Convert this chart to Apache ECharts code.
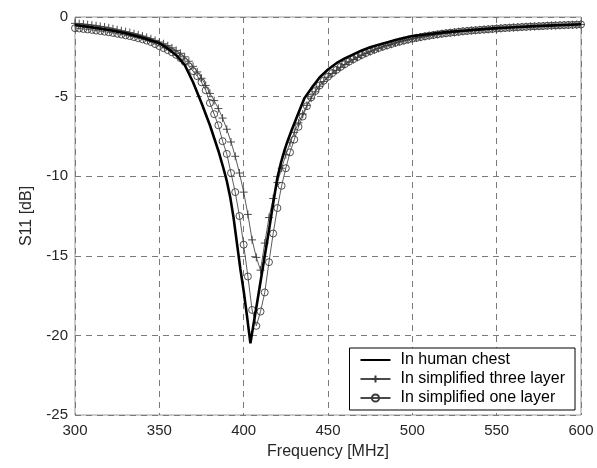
<!DOCTYPE html>
<html><head><meta charset="utf-8">
<script src="https://cdn.jsdelivr.net/npm/echarts@6/dist/echarts.min.js"></script>
<style>html,body{margin:0;padding:0;background:#fff}#c{width:597px;height:468px}</style>
</head><body><div id="c"></div>
<script>
const seriesNames = ['In human chest', 'In simplified three layer', 'In simplified one layer'];
const xTicks = [300, 350, 400, 450, 500, 550, 600];
const yTicks = [-25, -20, -15, -10, -5, 0];

// Frequencies [MHz] of the marker series
const freq = [
300,302.5,305,307.5,310,312.5,315,317.5,320,322.5,
325,327.5,330,332.5,335,337.5,340,342.5,345,347.5,
350,352.5,355,357.5,360,362.5,365,367.5,370,372.5,
375,377.5,380,382.5,385,387.5,390,392.5,395,397.5,
400,402.5,405,407.5,410,412.5,415,417.5,420,422.5,
425,427.5,430,432.5,435,437.5,440,442.5,445,447.5,
450,452.5,455,457.5,460,462.5,465,467.5,470,472.5,
475,477.5,480,482.5,485,487.5,490,492.5,495,497.5,
500,502.5,505,507.5,510,512.5,515,517.5,520,522.5,
525,527.5,530,532.5,535,537.5,540,542.5,545,547.5,
550,552.5,555,557.5,560,562.5,565,567.5,570,572.5,
575,577.5,580,582.5,585,587.5,590,592.5,595,597.5,
600];

// S11 [dB], simplified three layer model
const threeLayer = [
-0.40,-0.42,-0.45,-0.48,-0.51,-0.55,-0.59,-0.63,-0.68,-0.74,
-0.80,-0.86,-0.92,-0.98,-1.05,-1.12,-1.20,-1.28,-1.37,-1.47,
-1.57,-1.68,-1.80,-1.94,-2.10,-2.28,-2.50,-2.78,-3.10,-3.45,
-3.85,-4.30,-4.80,-5.25,-5.75,-6.35,-7.05,-7.85,-8.75,-9.80,
-11.00,-12.40,-14.00,-15.10,-15.90,-14.20,-12.60,-11.40,-10.40,-9.50,
-8.65,-7.90,-7.25,-6.65,-6.10,-5.55,-5.10,-4.70,-4.35,-4.05,
-3.78,-3.55,-3.35,-3.16,-2.99,-2.83,-2.68,-2.54,-2.41,-2.29,
-2.18,-2.07,-1.97,-1.88,-1.79,-1.71,-1.63,-1.56,-1.49,-1.43,
-1.37,-1.32,-1.27,-1.22,-1.17,-1.13,-1.09,-1.05,-1.02,-0.99,
-0.96,-0.93,-0.90,-0.87,-0.85,-0.83,-0.81,-0.79,-0.77,-0.75,
-0.73,-0.71,-0.69,-0.67,-0.66,-0.64,-0.63,-0.61,-0.60,-0.59,
-0.57,-0.56,-0.55,-0.54,-0.53,-0.52,-0.51,-0.50,-0.49,-0.48,
-0.47];

// S11 [dB], simplified one layer model
const oneLayer = [
-0.70,-0.72,-0.75,-0.78,-0.81,-0.85,-0.88,-0.92,-0.96,-1.00,
-1.05,-1.10,-1.15,-1.20,-1.26,-1.33,-1.40,-1.48,-1.57,-1.70,
-1.83,-1.95,-2.08,-2.22,-2.38,-2.58,-2.82,-3.10,-3.40,-3.72,
-4.10,-4.60,-5.40,-6.10,-6.80,-7.80,-8.60,-9.80,-11.00,-12.50,
-14.30,-16.30,-18.40,-19.40,-18.50,-17.30,-15.40,-13.60,-12.00,-10.60,
-9.50,-8.50,-7.70,-6.90,-6.25,-5.60,-5.05,-4.65,-4.30,-4.00,
-3.75,-3.52,-3.32,-3.13,-2.96,-2.80,-2.65,-2.51,-2.38,-2.26,
-2.15,-2.05,-1.95,-1.86,-1.78,-1.70,-1.62,-1.55,-1.48,-1.42,
-1.36,-1.31,-1.26,-1.21,-1.17,-1.13,-1.09,-1.05,-1.02,-0.99,
-0.96,-0.93,-0.90,-0.88,-0.85,-0.83,-0.81,-0.79,-0.77,-0.75,
-0.73,-0.71,-0.69,-0.68,-0.66,-0.65,-0.63,-0.62,-0.60,-0.59,
-0.58,-0.57,-0.55,-0.54,-0.53,-0.52,-0.51,-0.50,-0.49,-0.48,
-0.47];

// Human chest (solid thick line)
const chestFreq = [300,310,320,330,340,350,355,360,365,370,375,380,385,388,390,392,394,396.5,398,400,402,404,406,408.5,410.5,412.5,415,417.5,420,422,424,426,428.5,432,436,440,445,450,455,460,465,470,475,480,485,490,495,500,510,520,530,540,550,560,570,580,590,600];
const chestS11 = [-0.5,-0.65,-0.82,-1.02,-1.3,-1.65,-1.98,-2.4,-3.0,-4.1,-5.4,-6.8,-8.4,-9.5,-10.3,-11.3,-12.6,-14.6,-15.8,-17.2,-18.8,-20.5,-19.2,-17.6,-16.3,-15.0,-13.4,-11.7,-10.1,-9.2,-8.45,-7.8,-7.1,-6.15,-5.1,-4.5,-3.8,-3.3,-2.9,-2.6,-2.35,-2.1,-1.9,-1.75,-1.6,-1.45,-1.32,-1.2,-1.07,-0.95,-0.86,-0.78,-0.7,-0.64,-0.59,-0.54,-0.5,-0.46];

const FONT = '"Liberation Sans", Arial, sans-serif';
const chart = echarts.init(document.getElementById('c'), null, {renderer: 'canvas'});
const gridLine = {show: true, lineStyle: {color: '#7a7a7a', width: 1, type: [6, 5]}};
const crossPath = 'path://M5,0L5,10M0,5L10,5';

chart.setOption({
  animation: false,
  backgroundColor: '#fff',
  grid: {left: 75, right: 16, top: 17, bottom: 53, show: true, borderColor: '#9a9a9a', borderWidth: 1},
  xAxis: {
    type: 'value', min: xTicks[0], max: xTicks[xTicks.length - 1], interval: 50,
    name: 'Frequency [MHz]', nameLocation: 'middle', nameGap: 29,
    nameTextStyle: {fontFamily: FONT, fontSize: 16, color: '#262626'},
    axisLine: {show: false}, axisTick: {show: false},
    axisLabel: {fontFamily: FONT, fontSize: 15, color: '#262626', margin: 8},
    splitLine: gridLine
  },
  yAxis: {
    type: 'value', min: yTicks[0], max: yTicks[yTicks.length - 1], interval: 5,
    name: 'S11 [dB]', nameLocation: 'middle', nameGap: 40, nameRotate: 90,
    nameTextStyle: {fontFamily: FONT, fontSize: 16, color: '#262626'},
    axisLine: {show: false}, axisTick: {show: false},
    axisLabel: {fontFamily: FONT, fontSize: 15, color: '#262626', margin: 7},
    splitLine: gridLine
  },
  legend: {
    orient: 'vertical', right: 22, bottom: 58,
    itemWidth: 30, itemHeight: 9, itemGap: 1,
    padding: [3, 10, 3, 10],
    borderColor: '#000', borderWidth: 1, backgroundColor: '#fff',
    textStyle: {fontFamily: FONT, fontSize: 16, color: '#000', lineHeight: 18, padding: [0, 0, 0, 5]},
    data: [
      {name: seriesNames[0], itemStyle: {color: 'transparent', borderWidth: 0, opacity: 0}},
      seriesNames[1],
      seriesNames[2]
    ]
  },
  series: [
    {
      name: seriesNames[0], type: 'line', symbol: 'none', z: 3,
      lineStyle: {color: '#000', width: 2.6},
      itemStyle: {color: '#000'},
      data: chestFreq.map((f, i) => [f, chestS11[i]])
    },
    {
      name: seriesNames[1], type: 'line', symbol: crossPath, symbolSize: 8, showAllSymbol: true, z: 2,
      lineStyle: {color: '#4a4a4a', width: 0.9},
      itemStyle: {color: 'transparent', borderColor: '#3a3a3a', borderWidth: 0.9},
      data: freq.map((f, i) => [f, threeLayer[i]])
    },
    {
      name: seriesNames[2], type: 'line', symbol: 'circle', symbolSize: 7, showAllSymbol: true, z: 2,
      lineStyle: {color: '#4a4a4a', width: 0.9},
      itemStyle: {color: 'transparent', borderColor: '#3a3a3a', borderWidth: 0.9},
      data: freq.map((f, i) => [f, oneLayer[i]])
    }
  ]
});
</script>
</body></html>
